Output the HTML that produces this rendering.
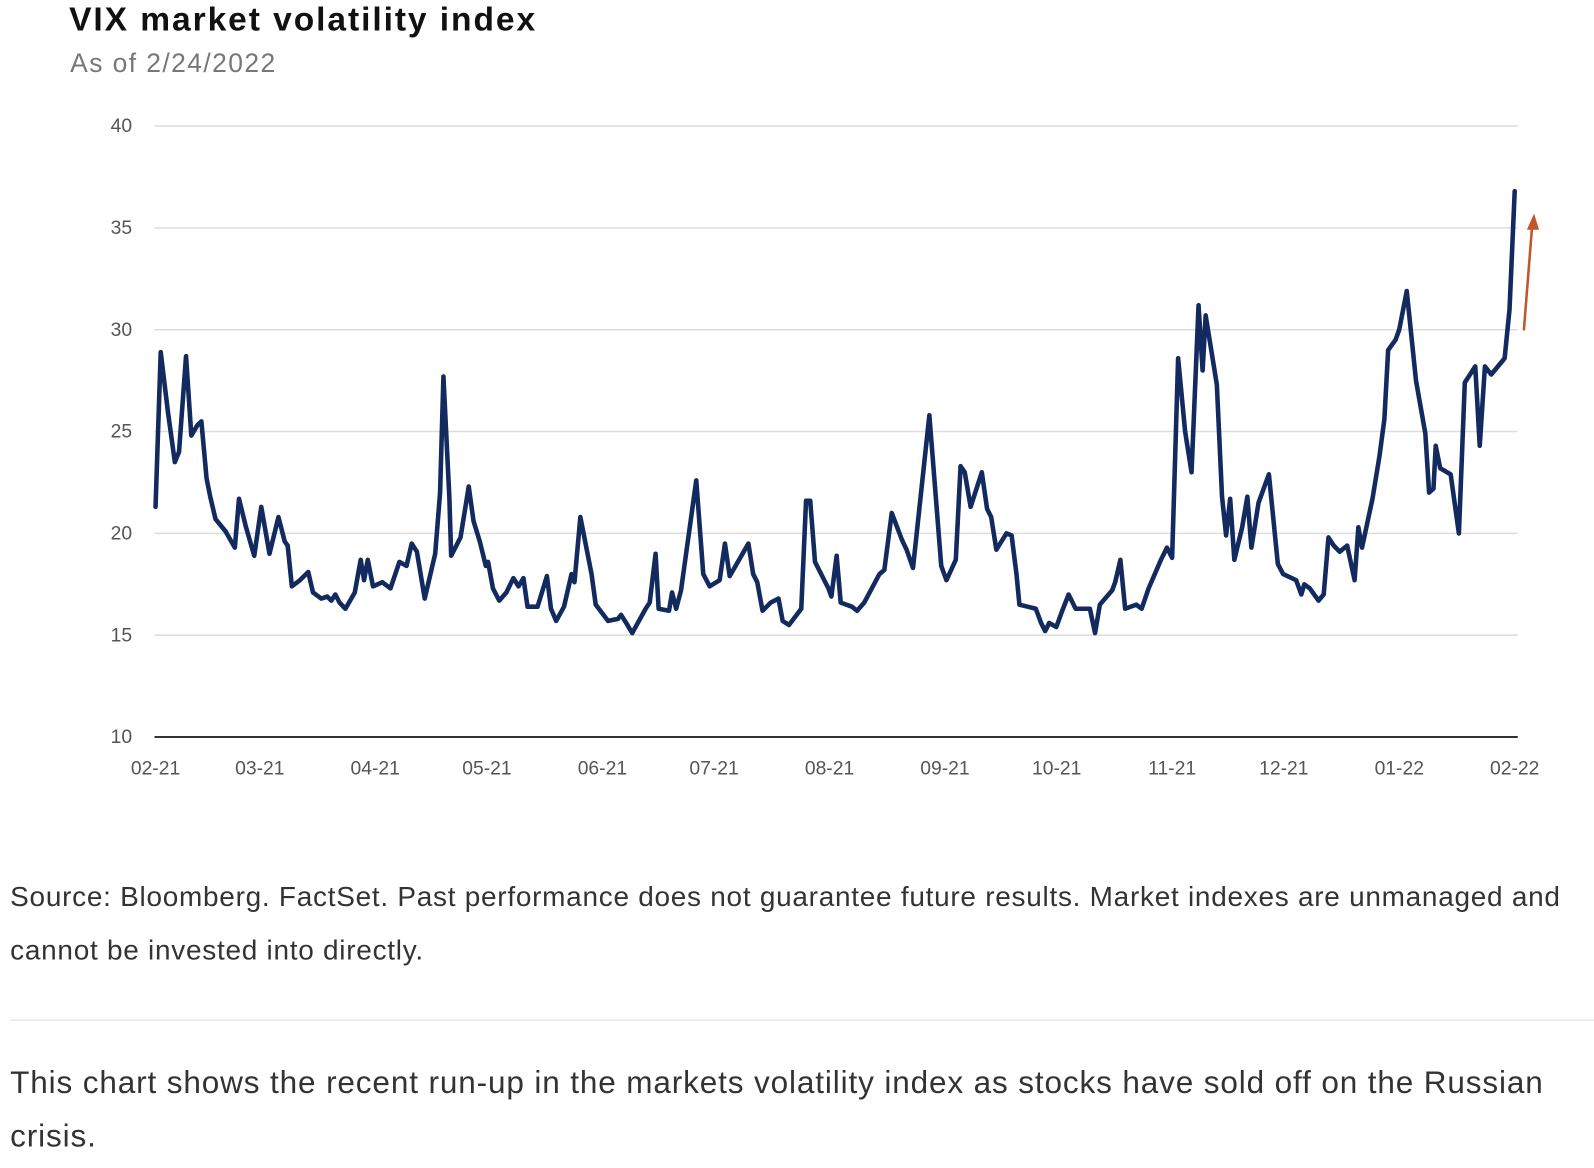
<!DOCTYPE html>
<html><head><meta charset="utf-8">
<style>
html,body{margin:0;padding:0;background:#fff;width:1594px;height:1168px;overflow:hidden}
#wrap{position:absolute;left:0;top:0;width:1568px;height:1149px;transform:scale(1.01658);transform-origin:0 0;font-family:"Liberation Sans",sans-serif}
.t{position:absolute;white-space:nowrap}
</style></head><body>
<div id="wrap">
<div class="t" style="left:68px;top:0px;font-size:33px;font-weight:bold;color:#111;letter-spacing:1.9px">VIX market volatility index</div>
<div class="t" style="left:69px;top:47px;font-size:26px;color:#777;letter-spacing:1.4px">As of 2/24/2022</div>
<svg id="chart" width="1568" height="800" style="position:absolute;left:0;top:0"></svg>
<div class="t" style="left:10px;top:855px;font-size:27.5px;color:#333;line-height:53px;white-space:normal;width:1558px;letter-spacing:0.72px">Source: Bloomberg. FactSet. Past performance does not guarantee future results. Market indexes are unmanaged and cannot be invested into directly.</div>
<div style="position:absolute;left:10px;top:1003px;width:1558px;height:1px;background:#ddd"></div>
<div class="t" style="left:10px;top:1038px;font-size:31px;color:#333;line-height:53px;white-space:normal;width:1540px;letter-spacing:0.85px">This chart shows the recent run-up in the markets volatility index as stocks have sold off on the Russian crisis.</div>
</div>
<script>
const yTicks=[10,15,20,25,30,35,40];
const xTickLabels=["02-21","03-21","04-21","05-21","06-21","07-21","08-21","09-21","10-21","11-21","12-21","01-22","02-22"];
const xTickDays=[0,28,59,89,120,150,181,212,242,273,303,334,365];
const days=[0,1.4,3.3,5.2,6.3,8.2,9.6,11.2,12.3,13.7,14.7,16.1,18.8,21.3,22.4,24.3,26.5,28.4,30.6,33,34.7,35.5,36.6,38.8,41,42.3,44.5,46.1,47.2,48.3,49.4,51,53.5,55.1,56,57,58.4,60.9,63.1,65.5,67.4,68.8,70.2,72.3,75.1,76.4,77.3,78.9,79.4,81.9,84.1,85.4,87.1,88.7,89.3,90.6,92.3,94.2,96.1,97.5,98.8,99.9,102.6,105.1,106.2,107.6,109.7,111.7,112.5,114.1,117.1,118.2,121.5,124.2,125,126.4,128,131.6,132.7,134.3,135.1,137.9,138.7,139.8,141.1,145.2,147.1,148.8,151.5,152.9,154.2,159.2,160.5,161.6,163,165.2,167.3,168.4,170.1,173.4,174.7,175.8,177.1,180.7,181.5,182.9,184,187,188.4,190.3,194.4,195.7,197.7,200.4,201.7,203.4,207.8,211,212.4,214.9,216.2,217.3,218.9,221.9,223.3,224.4,225.8,228.5,229.9,231.2,232,234.2,236.4,237.8,238.9,240,241.9,243.5,245.2,247.1,250.9,252.3,253.6,256.9,257.7,259.1,260.4,263.4,264.8,266.7,270,271.6,273,274.6,276.5,278.2,280.1,281.2,282,285,286.4,287.5,288.6,289.7,291.8,293.2,294.3,296.2,299,301.4,302.8,306.3,307.7,308.5,310,312.3,313.7,315,316.4,318,320,322,323,324,326.8,328.7,330,331,333,334,336,338.5,341,342,343.2,343.8,345,347.8,350,351.6,354.4,355.6,357,358.7,362.3,363.6,365];
const vix=[21.3,28.9,26,23.5,24,28.7,24.8,25.3,25.5,22.7,21.8,20.7,20.1,19.3,21.7,20.3,18.9,21.3,19.0,20.8,19.6,19.4,17.4,17.7,18.1,17.1,16.8,16.9,16.7,17.0,16.6,16.3,17.1,18.7,17.7,18.7,17.4,17.6,17.3,18.6,18.4,19.5,19.1,16.8,19.0,22,27.7,21.8,18.9,19.8,22.3,20.6,19.6,18.4,18.6,17.3,16.7,17.1,17.8,17.4,17.8,16.4,16.4,17.9,16.3,15.7,16.4,18.0,17.6,20.8,18.0,16.5,15.7,15.8,16.0,15.6,15.1,16.3,16.6,19.0,16.3,16.2,17.1,16.3,17.2,22.6,18.0,17.4,17.7,19.5,17.9,19.5,18.0,17.6,16.2,16.6,16.8,15.7,15.5,16.3,21.6,21.6,18.6,17.3,16.9,18.9,16.6,16.4,16.2,16.6,18.0,18.2,21.0,19.7,19.2,18.3,25.8,18.4,17.7,18.7,23.3,23.0,21.3,23.0,21.2,20.8,19.2,20.0,19.9,18.0,16.5,16.4,16.3,15.6,15.2,15.6,15.4,16.2,17.0,16.3,16.3,15.1,16.5,17.2,17.6,18.7,16.3,16.5,16.3,17.3,18.7,19.3,18.8,28.6,25,23.0,31.2,28.0,30.7,27.3,21.8,19.9,21.7,18.7,20.3,21.8,19.3,21.5,22.9,18.5,18.0,17.7,17.0,17.5,17.3,16.7,17.0,19.8,19.4,19.1,19.4,17.7,20.3,19.3,21.7,23.8,25.6,29.0,29.5,30.0,31.9,27.5,24.9,22.0,22.2,24.3,23.2,22.9,20.0,27.4,28.2,24.3,28.2,27.8,28.6,31.0,36.8];
const NS="http://www.w3.org/2000/svg";
const svg=document.getElementById('chart');
const X0=153,X1=1490,Y0=725,Y1=124;
const xScale=d=>X0+(d-0)/(365-0)*(X1-X0);
const yScale=v=>Y0-(v-10)/(40-10)*(Y0-Y1);
function mk(tag,attrs){const e=document.createElementNS(NS,tag);for(const k in attrs)e.setAttribute(k,attrs[k]);svg.appendChild(e);return e;}
yTicks.forEach(t=>{
  const g=mk('line',{x1:152,x2:1493,y1:yScale(t),y2:yScale(t),stroke:t===10?'#333':'#ddd','stroke-width':t===10?2:1.5});
  
  
  const tx=mk('text',{x:130,y:yScale(t)+6,'text-anchor':'end','font-size':19,fill:'#555','font-family':'Liberation Sans, sans-serif'});
  tx.textContent=t;
  
  
});
xTickLabels.forEach((l,i)=>{
  const tx=mk('text',{x:xScale(xTickDays[i]),y:762,'text-anchor':'middle','font-size':19,fill:'#555','font-family':'Liberation Sans, sans-serif'});
  tx.textContent=l;
  
  
});
const pts=days.map((d,i)=>xScale(d).toFixed(1)+','+yScale(vix[i]).toFixed(1)).join(' ');
const line=mk('polyline',{points:pts,fill:'none',stroke:'#122a5e','stroke-width':4.5,'stroke-linejoin':'round','stroke-linecap':'round'});


const arr=mk('line',{x1:1499,y1:325,x2:1507,y2:224,stroke:'#c0562a','stroke-width':2.5});


const head=mk('polygon',{points:'1509,210 1502,226 1514,226',fill:'#c0562a'});


</script>
</body></html>
